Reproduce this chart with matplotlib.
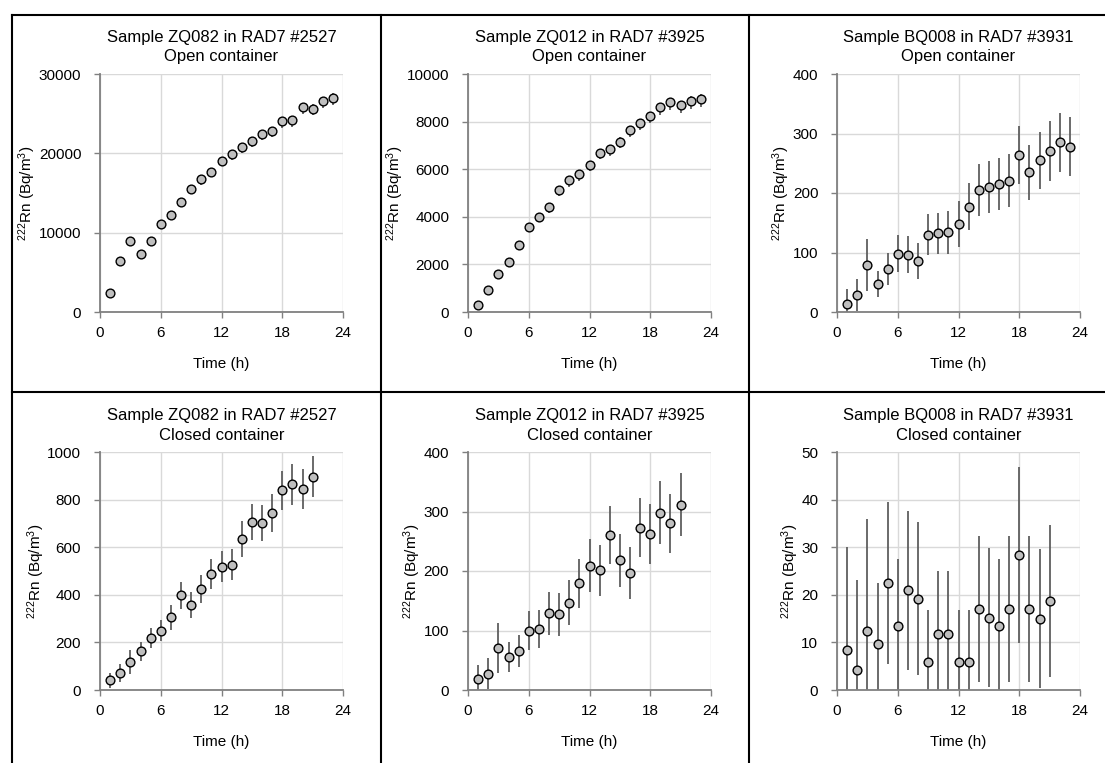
import matplotlib
matplotlib.use('Agg')
import matplotlib.pyplot as plt
from matplotlib.lines import Line2D

plt.rcParams['font.family'] = ['Liberation Sans', 'DejaVu Sans']
plt.rcParams['mathtext.fontset'] = 'custom'
plt.rcParams['mathtext.rm'] = 'Liberation Sans'
plt.rcParams['mathtext.it'] = 'Liberation Sans:italic'
plt.rcParams['mathtext.bf'] = 'Liberation Sans:bold'
plt.rcParams['mathtext.default'] = 'rm'

# ---------------- data ----------------
hours_open = [1, 2, 3, 4, 5, 6, 7, 8, 9, 10, 11, 12, 13, 14, 15, 16, 17, 18, 19, 20, 21, 22, 23]
hours_closed = [1, 2, 3, 4, 5, 6, 7, 8, 9, 10, 11, 12, 13, 14, 15, 16, 17, 18, 19, 20, 21]

zq082_open = [2450, 6400, 8930, 7370, 8940, 11120, 12180, 13860, 15510, 16730, 17700,
              19090, 19890, 20810, 21610, 22460, 22840, 24020, 24190, 25790, 25620, 26550, 27010]
zq082_open_lo = [300, 500, 550, 520, 550, 600, 620, 650, 680, 700, 720,
                 740, 760, 780, 790, 800, 810, 830, 830, 850, 850, 860, 870]
zq082_open_hi = [200, 300, 350, 320, 350, 380, 400, 420, 440, 450, 460,
                 470, 480, 490, 500, 510, 520, 530, 530, 540, 540, 550, 550]

zq012_open = [310, 940, 1600, 2090, 2810, 3570, 4000, 4410, 5130, 5530, 5790,
              6180, 6690, 6850, 7160, 7650, 7940, 8230, 8600, 8820, 8690, 8860, 8950]
zq012_open_lo = [100, 130, 160, 180, 200, 220, 230, 240, 250, 260, 265,
                 270, 280, 285, 290, 295, 300, 305, 310, 315, 315, 320, 320]
zq012_open_hi = [60, 80, 100, 110, 120, 130, 140, 145, 150, 155, 160,
                 165, 170, 170, 175, 180, 180, 185, 190, 190, 190, 195, 195]

bq008_open = [14, 29, 79, 47, 73, 98, 96, 86, 130, 132, 134,
              148, 177, 205, 210, 215, 221, 264, 235, 255, 271, 285, 278]
bq008_open_err = [24, 27, 43, 22, 27, 31, 31, 30, 35, 35, 36,
                  38, 40, 44, 44, 44, 44, 49, 46, 48, 50, 50, 50]

zq082_closed = [41, 73, 117, 162, 219, 250, 305, 398, 357, 424, 486,
                518, 527, 633, 705, 701, 744, 839, 864, 843, 896]
zq082_closed_err = [31, 38, 50, 40, 43, 45, 52, 57, 55, 59, 63,
                    66, 66, 75, 75, 76, 79, 83, 85, 84, 86]

zq012_closed = [18.5, 27.5, 71, 56, 65, 100, 102, 129, 127, 147, 179,
                209, 201, 261, 218, 197, 273, 262, 298, 280, 311]
zq012_closed_err = [24, 26, 42, 25, 27, 33, 32, 36, 36, 38, 42,
                    45, 43, 49, 45, 44, 50, 50, 53, 50, 53]

bq008_closed = [8.4, 4.3, 12.4, 9.7, 22.5, 13.5, 21.0, 19.2, 5.9, 11.7, 11.7,
                5.9, 5.9, 17.0, 15.2, 13.5, 17.0, 28.3, 17.0, 15.0, 18.7]
bq008_closed_err = [21.7, 18.9, 23.5, 12.8, 17.0, 14.0, 16.7, 16.0, 11.0, 13.3, 13.3,
                    11.0, 11.0, 15.4, 14.6, 14.0, 15.3, 18.5, 15.3, 14.6, 16.0]

titles = ["Sample ZQ082 in RAD7 #2527\nOpen container",
          "Sample ZQ012 in RAD7 #3925\nOpen container",
          "Sample BQ008 in RAD7 #3931\nOpen container",
          "Sample ZQ082 in RAD7 #2527\nClosed container",
          "Sample ZQ012 in RAD7 #3925\nClosed container",
          "Sample BQ008 in RAD7 #3931\nClosed container"]
x_ticks = [0, 6, 12, 18, 24]
y_maxes = [30000, 10000, 400, 1000, 400, 50]
y_steps = [10000, 2000, 100, 200, 100, 10]
x_label = "Time (h)"
y_label = r"$^{222}$Rn (Bq/m$^{3}$)"

# ---------------- figure ----------------
W, H = 1105, 763
fig = plt.figure(figsize=(W / 100, H / 100), dpi=100)

lefts = [100, 468, 837]
tops = [74, 452]
aw, ah = 243, 238

series = [
    (hours_open, zq082_open, [zq082_open_lo, zq082_open_hi]),
    (hours_open, zq012_open, [zq012_open_lo, zq012_open_hi]),
    (hours_open, bq008_open, bq008_open_err),
    (hours_closed, zq082_closed, zq082_closed_err),
    (hours_closed, zq012_closed, zq012_closed_err),
    (hours_closed, bq008_closed, bq008_closed_err),
]

spine_col = '#808080'
for i, (xs, ys, err) in enumerate(series):
    r, c = divmod(i, 3)
    l = lefts[c]
    t = tops[r]
    ax = fig.add_axes([l / W, 1 - (t + ah) / H, aw / W, ah / H])
    ax.errorbar(xs, ys, yerr=err, fmt='none', ecolor='#5f5f5f', elinewidth=1.3,
                capsize=0, zorder=2)
    ax.plot(xs, ys, 'o', ms=6.3, mfc='#bfbfbf', mec='black', mew=1.0, zorder=3,
            clip_on=False)
    ax.set_xlim(0, 24)
    ax.set_ylim(0, y_maxes[i])
    ax.set_xticks(x_ticks)
    ax.set_yticks(list(range(0, y_maxes[i] + 1, y_steps[i])))
    ax.grid(True, color='#d9d9d9', lw=1.0, zorder=0)
    ax.set_axisbelow(True)
    for s in ['top', 'right']:
        ax.spines[s].set_visible(False)
    for s in ['left', 'bottom']:
        ax.spines[s].set_color(spine_col)
        ax.spines[s].set_linewidth(1.3)
    ax.tick_params(axis='both', which='major', direction='out', length=4,
                   width=1.0, color=spine_col, labelsize=11, labelcolor='black')
    ax.tick_params(axis='x', pad=6)
    ax.tick_params(axis='y', pad=9.5)
    ax.set_xlabel(x_label, fontsize=11, labelpad=12)
    ax.set_ylabel(y_label, fontsize=11, labelpad=0.5)
    ax.set_title(titles[i], fontsize=12, pad=9, linespacing=1.35)

# frame lines of the layout table
lw = 1.5
fig.add_artist(Line2D([12 / W, 1], [1 - 15 / H, 1 - 15 / H], color='black', lw=lw))
fig.add_artist(Line2D([12 / W, 1], [1 - 392 / H, 1 - 392 / H], color='black', lw=lw))
fig.add_artist(Line2D([12 / W, 12 / W], [0, 1 - 15 / H], color='black', lw=lw))
fig.add_artist(Line2D([381 / W, 381 / W], [0, 1 - 15 / H], color='black', lw=lw))
fig.add_artist(Line2D([749 / W, 749 / W], [0, 1 - 15 / H], color='black', lw=lw))

fig.savefig('out.png', dpi=100)
